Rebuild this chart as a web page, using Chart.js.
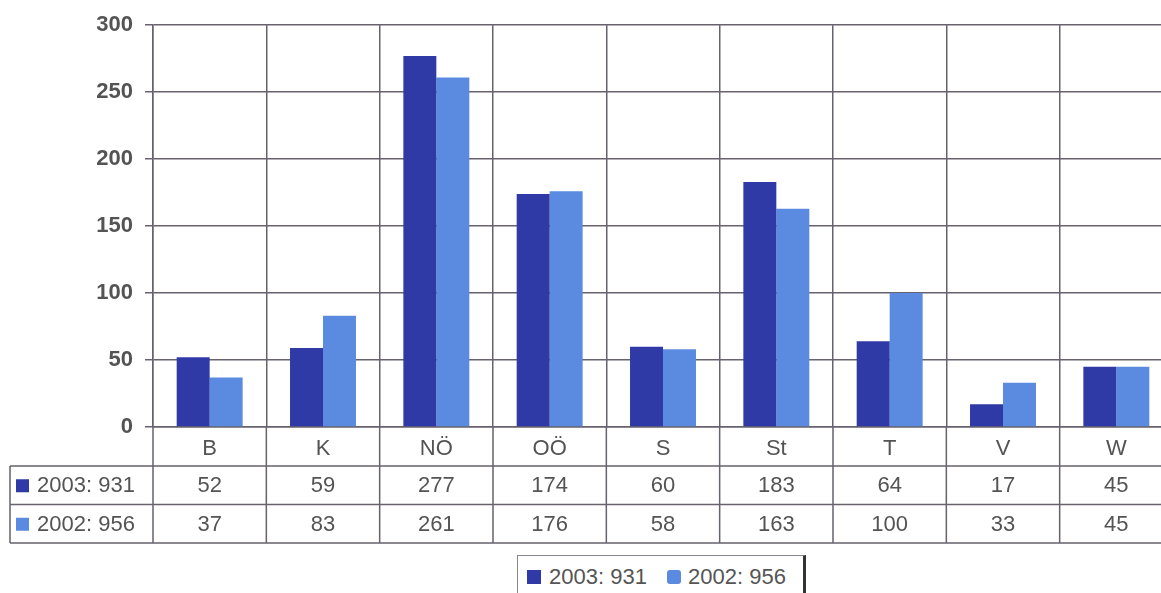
<!DOCTYPE html>
<html><head><meta charset="utf-8">
<script src="https://cdn.jsdelivr.net/npm/chart.js@4/dist/chart.umd.min.js"></script>
<style>
html,body{margin:0;padding:0;background:#fff;overflow:hidden;width:1161px;height:593px;}
#wrap{position:absolute;left:0;top:0;width:1180px;height:593px;}
#legend{position:absolute;left:517px;top:555px;width:289px;height:45px;box-sizing:border-box;border:1px solid #8a8590;border-right:3px solid #333;background:#fff;font-family:"Liberation Sans",Arial,sans-serif;font-size:22px;color:#555;white-space:nowrap;}
#legend span.m{position:absolute;width:14px;height:14px;top:14px;}
#legend span.t{position:absolute;top:8px;}
</style></head><body>
<div id="wrap"><canvas id="c" width="1180" height="593" style="width:1180px;height:593px"></canvas></div>
<div id="legend"></div>
<script>
const categories = ['B','K','NÖ','OÖ','S','St','T','V','W'];
const values2003 = [52,59,277,174,60,183,64,17,45];
const values2002 = [37,83,261,176,58,163,100,33,45];
const seriesLabels = ['2003: 931','2002: 956'];
const seriesColors = ['#2f3aa6','#5a8be0'];
const yMax = 300;
const yStep = 50;

const GRID = '#67626e';
const TEXT = '#545454';
const FONT = '"Liberation Sans", Arial, sans-serif';

const tablePlugin = {
  id: 'dataTable',
  afterDraw(chart) {
    const ctx = chart.ctx;
    const ca = chart.chartArea;
    const xs = chart.scales.x;
    const n = categories.length;
    const cw = (ca.right - ca.left) / n;
    const rowH = 38.5;
    const tTop = ca.bottom + 39;
    const tBot = tTop + rowH * 2;
    const tLeft = 10;
    ctx.save();
    ctx.strokeStyle = GRID;
    ctx.lineWidth = 1.5;
    ctx.beginPath();
    for (let i = 0; i <= n; i++) {
      const x = ca.left + i * cw;
      ctx.moveTo(x, ca.bottom);
      ctx.lineTo(x, tBot);
    }
    ctx.moveTo(tLeft, tTop); ctx.lineTo(tLeft, tBot);
    for (let r = 0; r <= 2; r++) {
      const y = tTop + r * rowH;
      ctx.moveTo(tLeft, y); ctx.lineTo(ca.right, y);
    }
    ctx.stroke();
    ctx.font = '22px ' + FONT;
    ctx.textBaseline = 'middle';
    chart.data.datasets.forEach((ds, r) => {
      const yc = tTop + r * rowH + rowH / 2 + 1;
      ctx.fillStyle = ds.backgroundColor;
      ctx.fillRect(16, yc - 7, 13, 13);
      ctx.fillStyle = TEXT;
      ctx.textAlign = 'left';
      ctx.fillText(ds.label, 37, yc);
      ctx.textAlign = 'center';
      ds.data.forEach((v, i) => {
        ctx.fillText(String(v), xs.getPixelForValue(i), yc);
      });
    });
    ctx.restore();
  }
};

const chart = new Chart(document.getElementById('c'), {
  type: 'bar',
  data: {
    labels: categories,
    datasets: [
      { label: seriesLabels[0], data: values2003, backgroundColor: seriesColors[0] },
      { label: seriesLabels[1], data: values2002, backgroundColor: seriesColors[1] }
    ]
  },
  options: {
    responsive: false,
    animation: false,
    events: [],
    layout: { padding: { left: 0, right: 7, top: 20, bottom: 127 } },
    plugins: { legend: { display: false }, tooltip: { enabled: false }, title: { display: false } },
    datasets: { bar: { categoryPercentage: 0.582, barPercentage: 1.0 } },
    scales: {
      x: {
        grid: { offset: true, color: GRID, lineWidth: 1.5, drawTicks: false },
        border: { display: true, color: GRID, width: 1.5 },
        ticks: { color: TEXT, font: { family: FONT, size: 22 }, padding: 9, maxRotation: 0, autoSkip: false },
        afterFit(s) { s.height = 39; }
      },
      y: {
        min: 0, max: yMax,
        grid: { color: GRID, lineWidth: 1.5, tickLength: 8 },
        border: { display: true, color: GRID, width: 1.5 },
        ticks: { stepSize: yStep, color: TEXT, font: { family: FONT, size: 22, weight: 'bold' }, padding: 12 },
        afterFit(s) { s.width = 153; }
      }
    }
  },
  plugins: [tablePlugin]
});

// legend
const lg = document.getElementById('legend');
const pos = [[9, 31], [149, 170]];
seriesLabels.forEach((lab, i) => {
  const m = document.createElement('span');
  m.className = 'm';
  m.style.left = pos[i][0] + 'px';
  m.style.background = seriesColors[i];
  if (i === 1) m.style.borderRadius = '3px';
  lg.appendChild(m);
  const t = document.createElement('span');
  t.className = 't';
  t.style.left = pos[i][1] + 'px';
  t.textContent = lab;
  lg.appendChild(t);
});
</script>
</body></html>
